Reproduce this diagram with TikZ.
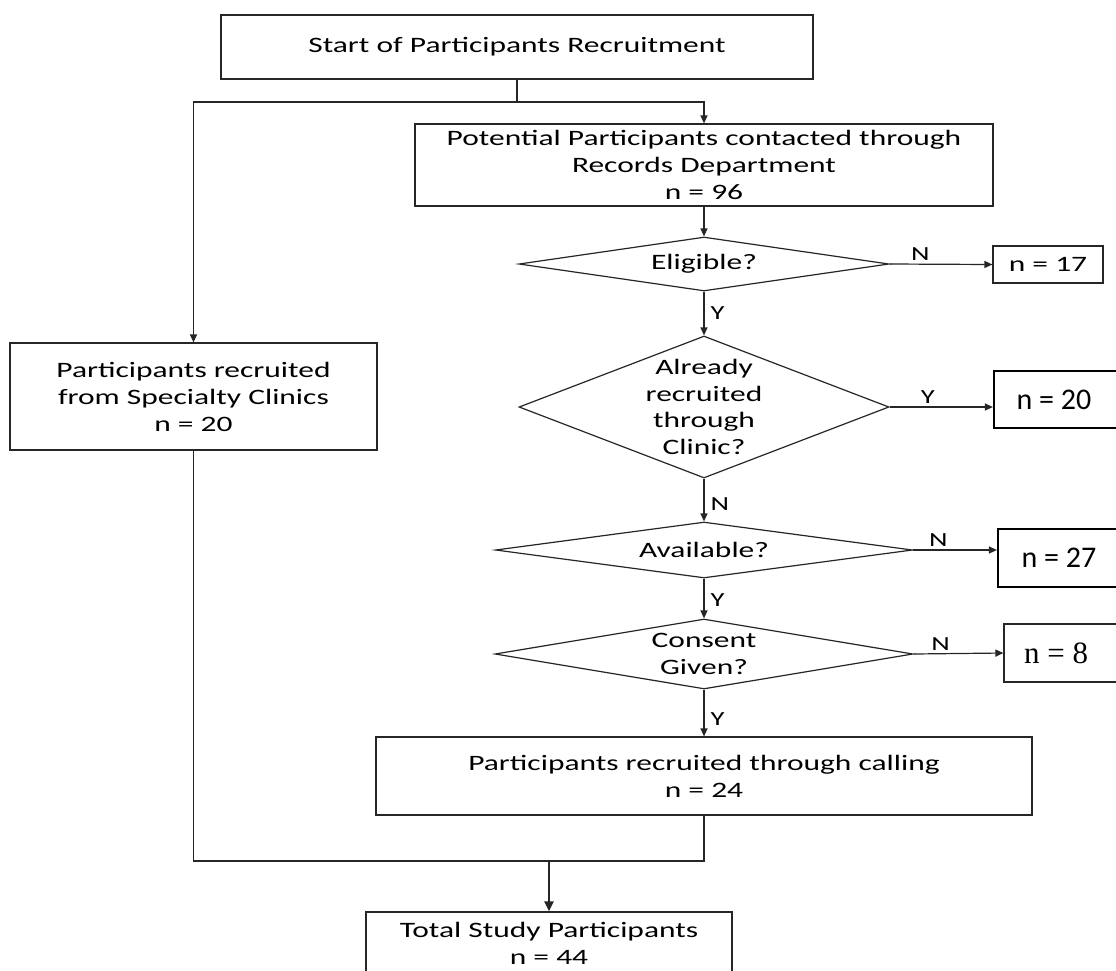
\documentclass[tikz,border=0pt]{standalone}
\usepackage{fontspec}
\setmainfont{Carlito}[FakeStretch=1.43]
\newfontfamily\serifnum{Liberation Serif}
\newfontfamily\plaincal{Carlito}
\usetikzlibrary{shapes.geometric,arrows.meta}
\begin{document}
\begin{tikzpicture}[x=1pt,y=-1pt,
  box/.style={draw=black!85,line width=1.2pt,rectangle,inner sep=0pt,align=center,
    font=\fontsize{22}{27}\selectfont},
  thickbox/.style={draw=black,line width=2.2pt,rectangle,inner sep=0pt,
    font=\plaincal\fontsize{30}{36}\selectfont},
  dia/.style={draw=black!85,line width=1.2pt,diamond,inner sep=0pt},
  dtext/.style={align=center,inner sep=0pt,font=\fontsize{22}{26.7}\selectfont},
  conn/.style={draw=black!85,line width=1.2pt},
  arr/.style={conn,-{Triangle[length=8pt,width=7pt]}},
  lab/.style={font=\fontsize{20}{24}\selectfont,inner sep=1pt}
]
\useasboundingbox (0,0) rectangle (1116,970);
\clip (0,0) rectangle (1116,970);
\fill[white] (0,0) rectangle (1116,970);

% boxes
\node[box,minimum width=592pt,minimum height=64pt] (start) at (517,47) {Start of Participants Recruitment};
\node[box,minimum width=578pt,minimum height=82pt] (pot) at (704,165) {Potential Participants contacted through\\Records Department\\n = 96};
\node[box,minimum width=367pt,minimum height=107pt] (spec) at (193.5,396.5) {Participants recruited\\from Specialty Clinics\\n = 20};
\node[box,minimum width=656pt,minimum height=78pt] (call) at (704,776) {Participants recruited through calling\\n = 24};
\node[box,minimum width=366pt,minimum height=62pt] (total) at (549,943) {Total Study Participants\\n = 44};

% diamonds
\node[dia,minimum width=370pt,minimum height=54pt] (elig) at (704,264) {};
\node[dtext] (eligT) at (elig) {Eligible?};
\node[dia,minimum width=370pt,minimum height=142pt] (already) at (704,407) {};
\node[dtext] (alreadyT) at (already) {Already\\recruited\\through\\Clinic?};
\node[dia,minimum width=417pt,minimum height=56pt] (avail) at (704,550) {};
\node[dtext] (availT) at (avail) {Available?};
\node[dia,minimum width=418pt,minimum height=70pt] (consent) at (704,654) {};
\node[dtext] (consentT) at (consent) {Consent\\Given?};

% outcome boxes
\node[box,minimum width=110pt,minimum height=37pt] (n17) at (1048,264.5) {n = 17};
\node[thickbox,minimum width=140pt,minimum height=57pt] (n20) at (1064,399.5) {\hspace*{-20pt}n = 20};
\node[thickbox,minimum width=140pt,minimum height=58pt] (n27) at (1068,558) {\hspace*{-18pt}n = 27};
\node[box,minimum width=140pt,minimum height=58pt,font=\serifnum\fontsize{31}{36}\selectfont] (n8) at (1074,653) {\hspace*{-36pt}n = 8};

% junctions
\coordinate (j1) at (517,102);
\coordinate (j2) at (549,861);

% connectors
\draw[conn] (start.south) -- (j1);
\draw[arr] (j1) -| (spec.north);
\draw[arr] (j1) -| (pot.north);
\draw[arr] (pot.south) -- (elig.north);
\draw[arr] (elig.south) -- node[lab,right=5pt,pos=.5] {Y} (already.north);
\draw[arr] (already.south) -- node[lab,right=5pt,pos=.6] {N} (avail.north);
\draw[arr] (avail.south) -- node[lab,right=5pt,pos=.55] {Y} (consent.north);
\draw[arr] (consent.south) -- node[lab,right=5pt,pos=.63] {Y} (call.north);

\draw[arr] (elig.east) -- node[lab,above=2pt,pos=.3] {N} (n17.west);
\draw[arr] (already.east) -- node[lab,above=2pt,pos=.37] {Y} (already.east -| n20.west);
\draw[arr] (avail.east) -- node[lab,above=2pt,pos=.3] {N} (avail.east -| n27.west);
\draw[arr] (consent.east) -- node[lab,above=2pt,pos=.3] {N} (n8.west);

\draw[conn] (spec.south) |- (j2);
\draw[conn] (call.south) |- (j2);
\draw[conn,line width=2.6pt,-{Triangle[length=10pt,width=9pt]}] (j2) -- (total.north);
\end{tikzpicture}
\end{document}
